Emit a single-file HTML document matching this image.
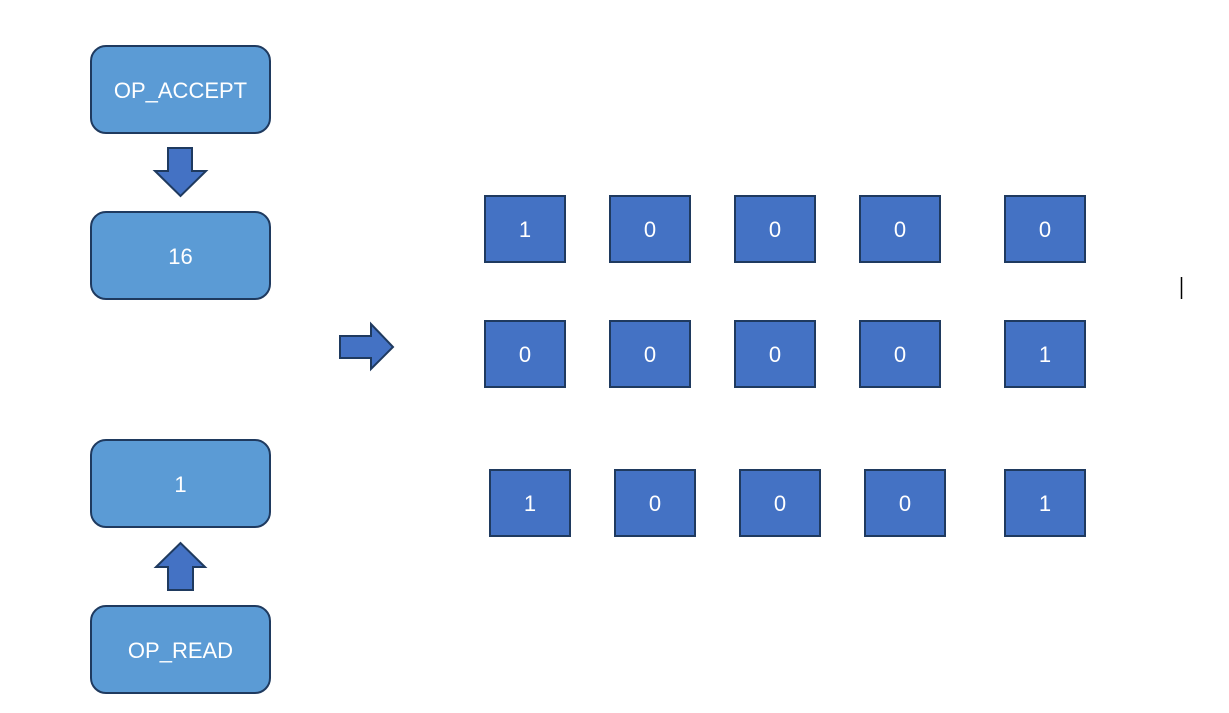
<!DOCTYPE html>
<html>
<head>
<meta charset="utf-8">
<style>
  html,body{margin:0;padding:0;background:#fff;}
  svg{display:block;}
  text{font-family:"Liberation Sans","Noto Sans CJK SC",sans-serif;fill:#fff;}
</style>
</head>
<body>
<svg id="diagram" width="1229" height="713" viewBox="0 0 1229 713" xmlns="http://www.w3.org/2000/svg">
  <rect width="1229" height="713" fill="#ffffff"/>

  <g>
    <rect x="91" y="46" width="179" height="87" rx="15" fill="#5B9BD5" stroke="#1F3A5F" stroke-width="2"/>
    <text x="180.5" y="98" font-size="22" text-anchor="middle">OP_ACCEPT</text>
  </g>
  <polygon points="168,148 192,148 192,171 206,171 180.5,196 155,171 168,171" fill="#4472C4" stroke="#1F3A5F" stroke-width="2"/>
  <g>
    <rect x="91" y="212" width="179" height="87" rx="15" fill="#5B9BD5" stroke="#1F3A5F" stroke-width="2"/>
    <text x="180.5" y="264" font-size="22" text-anchor="middle">16</text>
  </g>

  <g>
    <rect x="91" y="440" width="179" height="87" rx="15" fill="#5B9BD5" stroke="#1F3A5F" stroke-width="2"/>
    <text x="180.5" y="492" font-size="22" text-anchor="middle">1</text>
  </g>
  <polygon points="168,590 193,590 193,567 205,567 180.5,543 156,567 168,567" fill="#4472C4" stroke="#1F3A5F" stroke-width="2"/>
  <g>
    <rect x="91" y="606" width="179" height="87" rx="15" fill="#5B9BD5" stroke="#1F3A5F" stroke-width="2"/>
    <text x="180.5" y="658" font-size="22" text-anchor="middle">OP_READ</text>
  </g>

  <polygon points="340,336 371,336 371,324 393,347 371,369 371,358 340,358" fill="#4472C4" stroke="#1F3A5F" stroke-width="2"/>

  <g id="cells"></g>

  <line x1="1181.5" y1="277" x2="1181.5" y2="299" stroke="#000" stroke-width="1.5"/>
</svg>
<script>
const row1Bits = [1, 0, 0, 0, 0];
const row2Bits = [0, 0, 0, 0, 1];
const row3Bits = [1, 0, 0, 0, 1];

const NS = "http://www.w3.org/2000/svg";
const g = document.getElementById("cells");
const rows = [
  {bits: row1Bits, y: 196, xs: [485, 610, 735, 860, 1005], name: "row1"},
  {bits: row2Bits, y: 321, xs: [485, 610, 735, 860, 1005], name: "row2"},
  {bits: row3Bits, y: 470, xs: [490, 615, 740, 865, 1005], name: "row3"}
];
rows.forEach(function(r){
  r.bits.forEach(function(b, i){
    const cell = document.createElementNS(NS, "g");
    
    
    const rect = document.createElementNS(NS, "rect");
    rect.setAttribute("x", r.xs[i]);
    rect.setAttribute("y", r.y);
    rect.setAttribute("width", 80);
    rect.setAttribute("height", 66);
    rect.setAttribute("fill", "#4472C4");
    rect.setAttribute("stroke", "#1F3A5F");
    rect.setAttribute("stroke-width", "2");
    const t = document.createElementNS(NS, "text");
    t.setAttribute("x", r.xs[i] + 40);
    t.setAttribute("y", r.y + 41);
    t.setAttribute("font-size", "22");
    t.setAttribute("text-anchor", "middle");
    t.textContent = String(b);
    cell.appendChild(rect);
    cell.appendChild(t);
    g.appendChild(cell);
  });
});
</script>
</body>
</html>
